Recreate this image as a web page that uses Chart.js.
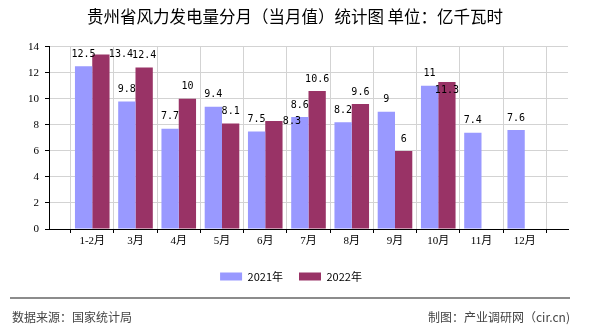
<!DOCTYPE html>
<html>
<head>
<meta charset="utf-8">
<script src="https://cdn.jsdelivr.net/npm/chart.js@4.4.1/dist/chart.umd.min.js"></script>
<style>
  body { margin: 0; background: #fff; }
  #wrap { position: relative; width: 590px; height: 330px; }
  .rule { position: absolute; left: 10px; top: 297px; width: 560px; height: 0; border-top: 2px solid #8c8c8c; }
  .note { position: absolute; top: 308px; font: 12px 'Noto Sans CJK SC', sans-serif; color: #444; line-height: 18px; }
</style>
</head>
<body>
<div id="wrap">
  <canvas id="windChart" width="590" height="330"></canvas>
  <div class="rule"></div>
  <div class="note" style="left:12px">数据来源：国家统计局</div>
  <div class="note" style="right:20px">制图：产业调研网（cir.cn)</div>
</div>
<script>
const months = ['1-2月', '3月', '4月', '5月', '6月', '7月', '8月', '9月', '10月', '11月', '12月'];
const values2021 = [12.5, 9.8, 7.7, 9.4, 7.5, 8.6, 8.2, 9, 11, 7.4, 7.6];
const values2022 = [13.4, 12.4, 10, 8.1, 8.3, 10.6, 9.6, 6, 11.3, null, null];
const seriesNames = ['2021年', '2022年'];
const yMax = 14;
const yStep = 2;

// empty slot on both ends, bars sit on the ticks
const labels = [''].concat(months, ['']);
const pad = arr => [null].concat(arr, [null]);

const cjk = "'Noto Sans CJK SC', sans-serif";
const serif = "'Liberation Serif', 'Noto Sans CJK SC', serif";

// a few labels were moved off the bar top in the original to avoid overlaps
const labelNudge = { '1-1': [20, 12], '1-5': [18, 12], '1-9': [0, 20] };

const valueLabels = {
  id: 'valueLabels',
  afterDatasetsDraw(chart) {
    const c = chart.ctx;
    c.save();
    c.font = "10px 'DejaVu Sans Mono', monospace";
    c.fillStyle = '#000';
    c.textAlign = 'center';
    c.textBaseline = 'middle';
    chart.data.datasets.forEach((ds, di) => {
      const meta = chart.getDatasetMeta(di);
      meta.data.forEach((bar, i) => {
        const v = ds.data[i];
        if (v === null || v === undefined) return;
        const n = labelNudge[di + '-' + i] || [0, 0];
        c.fillText(String(v), bar.x + n[0], bar.y - 12 + n[1]);
      });
    });
    c.restore();
  }
};

// title and legend are centred on the whole 590px page, not the padded box
const recentre = {
  id: 'recentre',
  afterLayout(chart) {
    if (chart.titleBlock) chart.titleBlock.right += 22;
    if (chart.legend) chart.legend.right += 14;
  }
};

const ctx = document.getElementById('windChart').getContext('2d');
const windChart = new Chart(ctx, {
  type: 'bar',
  data: {
    labels: labels,
    datasets: [
      {
        label: seriesNames[0],
        data: pad(values2021),
        backgroundColor: '#9999ff',
        borderWidth: 0,
        categoryPercentage: 0.8,
        barPercentage: 1.0
      },
      {
        label: seriesNames[1],
        data: pad(values2022),
        backgroundColor: '#993366',
        borderWidth: 0,
        categoryPercentage: 0.8,
        barPercentage: 1.0
      }
    ]
  },
  options: {
    responsive: false,
    animation: false,
    layout: { padding: { left: 0, right: 22, top: 0, bottom: 38 } },
    scales: {
      x: {
        offset: false,
        grid: { color: '#d3d3d3', tickColor: '#000', tickLength: 4, lineWidth: 1 },
        border: { color: '#000', width: 1 },
        ticks: {
          autoSkip: false,
          maxRotation: 0,
          padding: 2,
          color: '#000',
          font: { family: serif, size: 11 }
        },
        afterFit(scale) { scale.height = 26; }
      },
      y: {
        min: 0,
        max: yMax,
        grid: { color: '#d3d3d3', tickColor: '#000', tickLength: 4, lineWidth: 1 },
        border: { color: '#000', width: 1 },
        ticks: {
          stepSize: yStep,
          padding: 6,
          color: '#000',
          font: { family: serif, size: 11 }
        },
        afterFit(scale) { scale.width = 49; }
      }
    },
    plugins: {
      title: {
        display: true,
        text: '贵州省风力发电量分月（当月值）统计图 单位：亿千瓦时',
        color: '#000',
        font: { family: cjk, size: 16.5, weight: 'normal' },
        padding: { top: 7, bottom: 20 }
      },
      legend: {
        position: 'bottom',
        labels: {
          boxWidth: 22,
          boxHeight: 8,
          padding: 16,
          color: '#000',
          font: { family: cjk, size: 11 }
        }
      },
      tooltip: { enabled: false }
    }
  },
  plugins: [valueLabels, recentre]
});
</script>
</body>
</html>
